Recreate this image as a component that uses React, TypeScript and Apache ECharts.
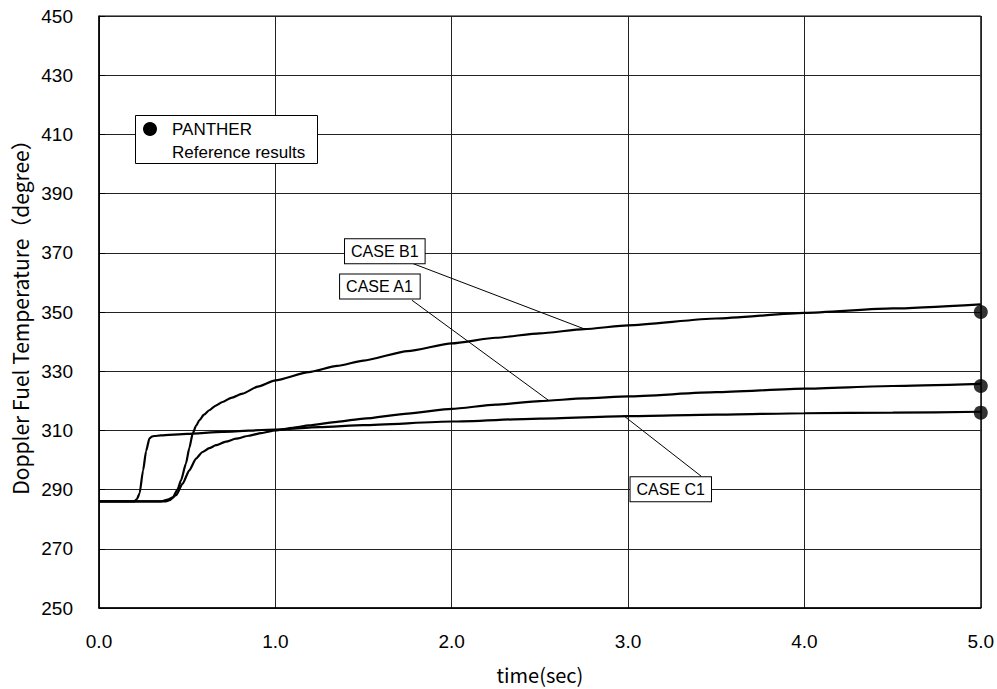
import React, { useEffect, useRef } from "react";
import * as echarts from "echarts";

// ---- data ----
const timeA1 = [0, 0.38, 0.4, 0.437, 0.474, 0.512, 0.55, 0.587, 0.625, 0.663, 0.72, 0.776, 0.85, 0.92, 1.0, 1.1, 1.19, 1.35, 1.5, 1.75, 2.0, 2.25, 2.5, 2.75, 3.0, 3.5, 4.0, 4.5, 5.0];
const tempA1 = [286, 286, 286.4, 288.1, 292, 296.5, 300.5, 302.7, 304, 305, 306.2, 307.2, 308.2, 309.1, 310, 310.9, 311.7, 312.9, 314, 315.7, 317.3, 318.7, 319.9, 320.8, 321.5, 322.9, 324.1, 325, 325.7];

const timeB1 = [0, 0.35, 0.39, 0.42, 0.445, 0.465, 0.493, 0.512, 0.531, 0.55, 0.569, 0.595, 0.625, 0.66, 0.7, 0.75, 0.814, 0.9, 1.0, 1.19, 1.35, 1.5, 1.75, 2.0, 2.25, 2.5, 2.75, 3.0, 3.5, 4.0, 4.5, 5.0];
const tempB1 = [286, 286, 286.6, 287.5, 290, 293.1, 298.8, 304, 308.9, 311.5, 313.4, 315.3, 316.8, 318.3, 319.6, 321, 322.4, 324.8, 326.9, 329.7, 331.8, 333.6, 336.8, 339.4, 341.3, 342.8, 344.2, 345.5, 347.8, 349.7, 351.2, 352.6];

const timeC1 = [0, 0.2, 0.215, 0.23, 0.25, 0.267, 0.286, 0.3, 0.314, 0.35, 0.5, 0.7, 1.0, 1.25, 1.5, 2.0, 2.5, 3.0, 3.5, 4.0, 4.5, 5.0];
const tempC1 = [286, 286, 286.8, 288.7, 296.5, 303, 307.3, 307.9, 308.1, 308.3, 308.8, 309.5, 310.3, 311.1, 311.8, 313.0, 314.0, 314.8, 315.3, 315.8, 316.0, 316.3];

const pantherTime = [5.0, 5.0, 5.0];
const pantherTemp = [350, 325, 316];

const xTicks = { min: 0, max: 5, interval: 1 };
const yTicks = { min: 250, max: 450, interval: 20 };

// annotation labels: text, box top-left (data coords), leader start, leader end (data coords)
const annoNames = ["CASE B1", "CASE A1", "CASE C1"];
const annoBox = [[1.395, 374.6], [1.367, 362.7], [3.014, 294.2]];
const annoFrom = [[1.774, 366.5], [1.774, 354.0], [3.415, 294.5]];
const annoTo = [[2.76, 344.1], [2.55, 320.1], [2.974, 315.0]];

const zip = (t: number[], v: number[]) => t.map((x, i) => [x, v[i]]);

const FONT = "Arial, 'Liberation Sans', sans-serif";
const CJK = "'Noto Sans CJK JP', sans-serif";

export default function App() {
  const ref = useRef<HTMLDivElement>(null);
  useEffect(() => {
    const chart = echarts.init(ref.current!, null, { renderer: "svg" });
    const lineSeries = (name: string, t: number[], v: number[]) => ({
      name,
      type: "line",
      data: zip(t, v),
      showSymbol: false,
      smooth: 0.2,
      smoothMonotone: "x",
      lineStyle: { color: "#000", width: 2.2 },
      z: 3,
    });
    chart.setOption({
      animation: false,
      backgroundColor: "#fff",
      grid: {
        left: 99,
        right: 14,
        top: 16,
        bottom: 81,
        show: true,
        borderColor: "#000",
        borderWidth: 1,
      },
      xAxis: {
        type: "value",
        ...xTicks,
        name: "time(sec)",
        nameLocation: "middle",
        nameGap: 56,
        nameTextStyle: { fontFamily: CJK, fontSize: 20, color: "#000" },
        axisLine: { show: true, lineStyle: { color: "#000", width: 1.5 } },
        axisTick: { show: false },
        axisLabel: {
          color: "#000",
          fontFamily: FONT,
          fontSize: 19,
          margin: 24,
          formatter: (v: number) => v.toFixed(1),
        },
        splitLine: { show: true, lineStyle: { color: "#222", width: 1 } },
      },
      yAxis: {
        type: "value",
        ...yTicks,
        name: "Doppler Fuel Temperature（degree）",
        nameLocation: "middle",
        nameRotate: 90,
        nameGap: 68,
        nameTextStyle: { fontFamily: CJK, fontSize: 21, color: "#000" },
        axisLine: { show: true, lineStyle: { color: "#000", width: 1.5 } },
        axisTick: { show: true, inside: true, length: 6, lineStyle: { color: "#000" } },
        axisLabel: { color: "#000", fontFamily: FONT, fontSize: 19, margin: 26 },
        splitLine: { show: true, lineStyle: { color: "#222", width: 1 } },
      },
      series: [
        lineSeries("CASE A1", timeA1, tempA1),
        lineSeries("CASE B1", timeB1, tempB1),
        lineSeries("CASE C1", timeC1, tempC1),
        {
          name: "PANTHER",
          type: "scatter",
          data: zip(pantherTime, pantherTemp),
          symbol: "circle",
          symbolSize: 14,
          clip: false,
          itemStyle: { color: "#000" },
          z: 4,
        },
      ],
    });

    const px = (p: number[]) => chart.convertToPixel({ gridIndex: 0 }, p) as number[];
    const graphics: any[] = [];
    annoNames.forEach((name, i) => {
      const a = px(annoFrom[i]);
      const b = px(annoTo[i]);
      graphics.push({
        type: "line",
        shape: { x1: a[0], y1: a[1], x2: b[0], y2: b[1] },
        style: { stroke: "#000", lineWidth: 1 },
        z: 10,
      });
    });
    annoNames.forEach((name, i) => {
      const c = px(annoBox[i]);
      graphics.push({
        type: "text",
        x: c[0],
        y: c[1],
        z: 11,
        style: {
          text: name,
          fontFamily: FONT,
          fontSize: 16,
          fill: "#000",
          backgroundColor: "#fff",
          borderColor: "#000",
          borderWidth: 1,
          padding: [4, 6, 4, 6],
        },
      });
    });
    // legend box
    graphics.push(
      {
        type: "rect",
        shape: { x: 135.5, y: 115.5, width: 182, height: 48 },
        style: { fill: "#fff", stroke: "#000", lineWidth: 1 },
        z: 10,
      },
      {
        type: "circle",
        shape: { cx: 150, cy: 129, r: 7 },
        style: { fill: "#000" },
        z: 11,
      },
      {
        type: "text",
        x: 172,
        y: 129,
        z: 11,
        style: { text: "PANTHER", fontFamily: FONT, fontSize: 17, fill: "#000", verticalAlign: "middle" },
      },
      {
        type: "text",
        x: 172,
        y: 152,
        z: 11,
        style: { text: "Reference results", fontFamily: FONT, fontSize: 17, fill: "#000", verticalAlign: "middle" },
      }
    );
    chart.setOption({ graphic: graphics });
    return () => chart.dispose();
  }, []);
  return (
    <div
      ref={ref}
      style={{ position: "absolute", left: 0, top: 0, width: 997, height: 689 }}
    />
  );
}
